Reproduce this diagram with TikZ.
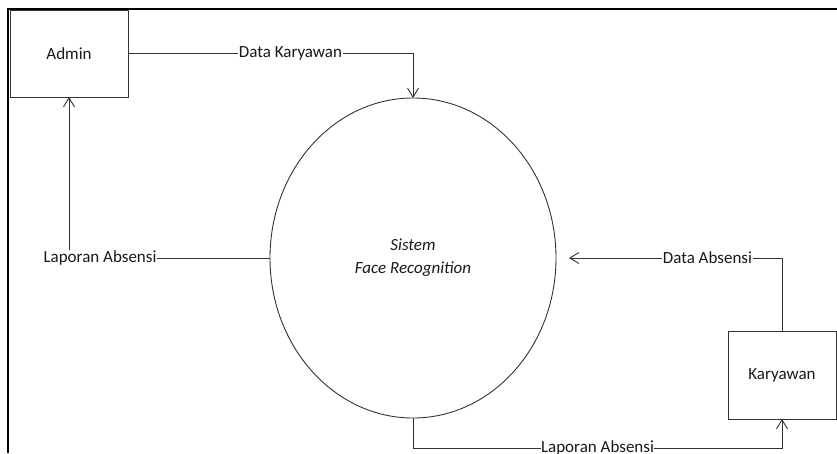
\documentclass[tikz,border=0pt]{standalone}
\usepackage{fontspec}
\setmainfont{Carlito}
\usetikzlibrary{shapes.geometric,arrows.meta}

\begin{document}
\begin{tikzpicture}[x=1pt,y=-1pt,
  entity/.style={draw=black!80,line width=0.9pt,minimum width=118pt,minimum height=87pt,inner sep=0pt,outer sep=0pt,text=black!90},
  process/.style={draw=black!80,line width=0.9pt,ellipse,minimum width=286pt,minimum height=320pt,inner sep=0pt,outer sep=0pt,align=center,font=\itshape,text=black!90},
  flow/.style={draw=black!80,line width=0.9pt,-{Straight Barb[length=9pt,width=11pt,line width=0.9pt]}},
  lbl/.style={fill=white,inner xsep=0.5pt,inner ysep=1pt,text=black!90}]
  \useasboundingbox (0,0) rectangle (837,453);
  \clip (0,0) rectangle (837,453);
  \fontsize{17}{23}\selectfont
  \draw[line width=2.3pt] (8,453) -- (8,9) -- (837,9);

  \node[entity] (admin) at (69,53.5) {Admin};
  \node[process] (sistem) at (413,258) {Sistem\\Face Recognition};
  \node[entity,minimum width=108pt,minimum height=88pt] (karyawan) at (782,375) {Karyawan};

  \draw[flow] (admin.east) -| node[lbl,pos=.285] {Data Karyawan} (sistem.north);
  \draw[flow] (sistem.west) -| node[lbl,pos=.5,xshift=31pt] {Laporan Absensi} (admin.south);
  \draw[flow,shorten >=13pt] (karyawan.north) |- node[lbl,pos=.665] {Data Absensi} (sistem.east);
  \draw[flow] (sistem.south) -- ++(0,30) -| node[lbl,pos=.25] {Laporan Absensi} (karyawan.south);
\end{tikzpicture}
\end{document}
